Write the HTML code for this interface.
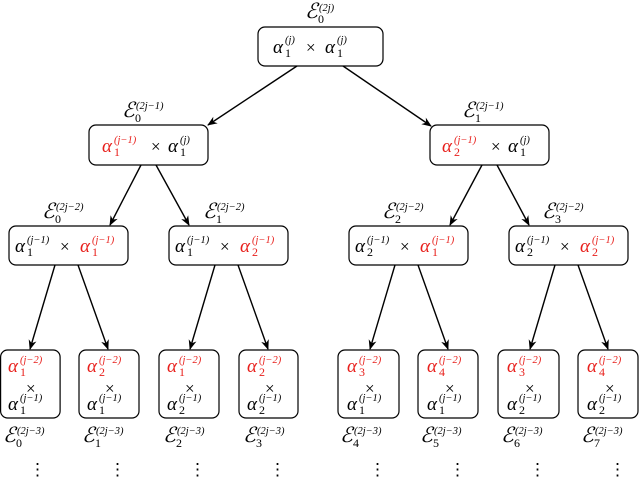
<!DOCTYPE html>
<html><head><meta charset="utf-8"><style>
body{margin:0;background:#fff}
svg{display:block}
text{font-family:"Liberation Serif","DejaVu Serif",serif;fill:#000}
.a{font-style:italic;font-size:19px}
.sb{font-size:12px}
.sp{font-size:10.5px;font-style:italic}
.E{font-style:italic;font-size:21px}
.r{fill:#e8201c}
.x{font-size:17px}
.d{font-size:17px}
</style></head><body>
<svg width="640" height="477" viewBox="0 0 640 477" xmlns="http://www.w3.org/2000/svg">
<defs><marker id="ar" markerWidth="10" markerHeight="8" refX="9" refY="4" orient="auto" markerUnits="userSpaceOnUse"><path d="M0,0 L10,4 L0,8 L3,4 z" fill="#000"/></marker></defs>
<g fill="none" stroke="#000" stroke-width="1.2">
<rect x="258" y="27" width="125" height="39" rx="7"/>
<rect x="89" y="125" width="119" height="40" rx="7"/>
<rect x="430" y="125" width="119" height="40" rx="7"/>
<rect x="9" y="226" width="119" height="39" rx="7"/>
<rect x="169" y="226" width="119" height="39" rx="7"/>
<rect x="349" y="226" width="119" height="39" rx="7"/>
<rect x="509" y="226" width="119" height="39" rx="7"/>
<rect x="0.6" y="350" width="59.5" height="68" rx="7"/>
<rect x="79" y="350" width="60" height="68" rx="7"/>
<rect x="159" y="350" width="60" height="68" rx="7"/>
<rect x="239" y="350" width="59" height="68" rx="7"/>
<rect x="338" y="350" width="61" height="68" rx="7"/>
<rect x="418" y="350" width="60" height="68" rx="7"/>
<rect x="498" y="350" width="61" height="68" rx="7"/>
<rect x="578" y="350" width="60" height="68" rx="7"/>
</g>
<g stroke="#000" stroke-width="1.4" marker-end="url(#ar)">
<line x1="297" y1="66" x2="208" y2="125"/>
<line x1="343" y1="66" x2="431" y2="126"/>
<line x1="141" y1="165" x2="110" y2="225"/>
<line x1="156" y1="165" x2="189" y2="225"/>
<line x1="482" y1="165" x2="450" y2="225"/>
<line x1="497" y1="165" x2="529" y2="225"/>
<line x1="55" y1="265" x2="30" y2="349"/>
<line x1="78" y1="265" x2="108" y2="349"/>
<line x1="215" y1="265" x2="190" y2="349"/>
<line x1="238" y1="265" x2="268" y2="349"/>
<line x1="395" y1="265" x2="370" y2="349"/>
<line x1="418" y1="265" x2="448" y2="349"/>
<line x1="555" y1="265" x2="530" y2="349"/>
<line x1="578" y1="265" x2="608" y2="349"/>
</g>
<!-- top -->
<text x="305" y="18" class="E">ℰ</text><text x="318" y="23" class="sb">0</text><text x="319" y="11" class="sp">(2j)</text>
<text x="273" y="53" class="a">α</text><text x="285" y="57" class="sb">1</text><text x="285" y="43" class="sp">(j)</text>
<text x="306" y="53" class="x">×</text>
<text x="325" y="53" class="a">α</text><text x="337" y="57" class="sb">1</text><text x="337" y="43" class="sp">(j)</text>
<!-- level1 -->
<text x="122" y="117" class="E">ℰ</text><text x="135" y="122" class="sb">0</text><text x="136" y="109" class="sp">(2j−1)</text>
<text x="462" y="117" class="E">ℰ</text><text x="475" y="122" class="sb">1</text><text x="476" y="109" class="sp">(2j−1)</text>
<text x="102" y="152" class="a r">α</text><text x="114" y="156" class="sb r">1</text><text x="114" y="143" class="sp r">(j−1)</text>
<text x="151" y="152" class="x">×</text>
<text x="168" y="152" class="a">α</text><text x="180" y="156" class="sb">1</text><text x="180" y="143" class="sp">(j)</text>
<text x="442" y="152" class="a r">α</text><text x="454" y="156" class="sb r">2</text><text x="454" y="143" class="sp r">(j−1)</text>
<text x="491" y="152" class="x">×</text>
<text x="508" y="152" class="a">α</text><text x="520" y="156" class="sb">1</text><text x="520" y="143" class="sp">(j)</text>
<!-- level2 labels -->
<text x="42" y="218" class="E">ℰ</text><text x="55" y="223" class="sb">0</text><text x="56" y="210" class="sp">(2j−2)</text>
<text x="203" y="218" class="E">ℰ</text><text x="216" y="223" class="sb">1</text><text x="217" y="210" class="sp">(2j−2)</text>
<text x="382" y="218" class="E">ℰ</text><text x="395" y="223" class="sb">2</text><text x="396" y="210" class="sp">(2j−2)</text>
<text x="542" y="218" class="E">ℰ</text><text x="555" y="223" class="sb">3</text><text x="556" y="210" class="sp">(2j−2)</text>
<!-- level2 content -->
<text x="15" y="252" class="a">α</text><text x="27" y="256" class="sb">1</text><text x="27" y="243" class="sp">(j−1)</text>
<text x="60" y="252" class="x">×</text>
<text x="80" y="252" class="a r">α</text><text x="92" y="256" class="sb r">1</text><text x="92" y="243" class="sp r">(j−1)</text>
<text x="175" y="252" class="a">α</text><text x="187" y="256" class="sb">1</text><text x="187" y="243" class="sp">(j−1)</text>
<text x="220" y="252" class="x">×</text>
<text x="240" y="252" class="a r">α</text><text x="252" y="256" class="sb r">2</text><text x="252" y="243" class="sp r">(j−1)</text>
<text x="355" y="252" class="a">α</text><text x="367" y="256" class="sb">2</text><text x="367" y="243" class="sp">(j−1)</text>
<text x="400" y="252" class="x">×</text>
<text x="420" y="252" class="a r">α</text><text x="432" y="256" class="sb r">1</text><text x="432" y="243" class="sp r">(j−1)</text>
<text x="515" y="252" class="a">α</text><text x="527" y="256" class="sb">2</text><text x="527" y="243" class="sp">(j−1)</text>
<text x="560" y="252" class="x">×</text>
<text x="580" y="252" class="a r">α</text><text x="592" y="256" class="sb r">2</text><text x="592" y="243" class="sp r">(j−1)</text>
<!-- level3 content -->
<g>
<text x="8" y="372" class="a r">α</text><text x="20" y="376" class="sb r">1</text><text x="20" y="363" class="sp r">(j−2)</text>
<text x="26" y="394" class="x">×</text>
<text x="8" y="410" class="a">α</text><text x="20" y="414" class="sb">1</text><text x="20" y="401" class="sp">(j−1)</text>

<text x="87" y="372" class="a r">α</text><text x="99" y="376" class="sb r">2</text><text x="99" y="363" class="sp r">(j−2)</text>
<text x="105" y="394" class="x">×</text>
<text x="87" y="410" class="a">α</text><text x="99" y="414" class="sb">1</text><text x="99" y="401" class="sp">(j−1)</text>

<text x="167" y="372" class="a r">α</text><text x="179" y="376" class="sb r">1</text><text x="179" y="363" class="sp r">(j−2)</text>
<text x="185" y="394" class="x">×</text>
<text x="167" y="410" class="a">α</text><text x="179" y="414" class="sb">2</text><text x="179" y="401" class="sp">(j−1)</text>

<text x="247" y="372" class="a r">α</text><text x="259" y="376" class="sb r">2</text><text x="259" y="363" class="sp r">(j−2)</text>
<text x="265" y="394" class="x">×</text>
<text x="247" y="410" class="a">α</text><text x="259" y="414" class="sb">2</text><text x="259" y="401" class="sp">(j−1)</text>

<text x="347" y="372" class="a r">α</text><text x="359" y="376" class="sb r">3</text><text x="359" y="363" class="sp r">(j−2)</text>
<text x="365" y="394" class="x">×</text>
<text x="347" y="410" class="a">α</text><text x="359" y="414" class="sb">1</text><text x="359" y="401" class="sp">(j−1)</text>

<text x="427" y="372" class="a r">α</text><text x="439" y="376" class="sb r">4</text><text x="439" y="363" class="sp r">(j−2)</text>
<text x="445" y="394" class="x">×</text>
<text x="427" y="410" class="a">α</text><text x="439" y="414" class="sb">1</text><text x="439" y="401" class="sp">(j−1)</text>

<text x="507" y="372" class="a r">α</text><text x="519" y="376" class="sb r">3</text><text x="519" y="363" class="sp r">(j−2)</text>
<text x="525" y="394" class="x">×</text>
<text x="507" y="410" class="a">α</text><text x="519" y="414" class="sb">2</text><text x="519" y="401" class="sp">(j−1)</text>

<text x="587" y="372" class="a r">α</text><text x="599" y="376" class="sb r">4</text><text x="599" y="363" class="sp r">(j−2)</text>
<text x="605" y="394" class="x">×</text>
<text x="587" y="410" class="a">α</text><text x="599" y="414" class="sb">2</text><text x="599" y="401" class="sp">(j−1)</text>
</g>
<!-- level3 labels -->
<text x="3" y="442" class="E">ℰ</text><text x="16" y="447" class="sb">0</text><text x="17" y="434" class="sp">(2j−3)</text>
<text x="82" y="442" class="E">ℰ</text><text x="95" y="447" class="sb">1</text><text x="96" y="434" class="sp">(2j−3)</text>
<text x="163" y="442" class="E">ℰ</text><text x="176" y="447" class="sb">2</text><text x="177" y="434" class="sp">(2j−3)</text>
<text x="243" y="442" class="E">ℰ</text><text x="256" y="447" class="sb">3</text><text x="257" y="434" class="sp">(2j−3)</text>
<text x="340" y="442" class="E">ℰ</text><text x="353" y="447" class="sb">4</text><text x="354" y="434" class="sp">(2j−3)</text>
<text x="420" y="442" class="E">ℰ</text><text x="433" y="447" class="sb">5</text><text x="434" y="434" class="sp">(2j−3)</text>
<text x="501" y="442" class="E">ℰ</text><text x="514" y="447" class="sb">6</text><text x="515" y="434" class="sp">(2j−3)</text>
<text x="581" y="442" class="E">ℰ</text><text x="594" y="447" class="sb">7</text><text x="595" y="434" class="sp">(2j−3)</text>
<!-- dots -->
<g>
<text x="29" y="475" class="d">⋮</text><text x="109" y="475" class="d">⋮</text><text x="189" y="475" class="d">⋮</text><text x="269" y="475" class="d">⋮</text>
<text x="369" y="475" class="d">⋮</text><text x="449" y="475" class="d">⋮</text><text x="529" y="475" class="d">⋮</text><text x="609" y="475" class="d">⋮</text>
</g>
</svg>
</body></html>
